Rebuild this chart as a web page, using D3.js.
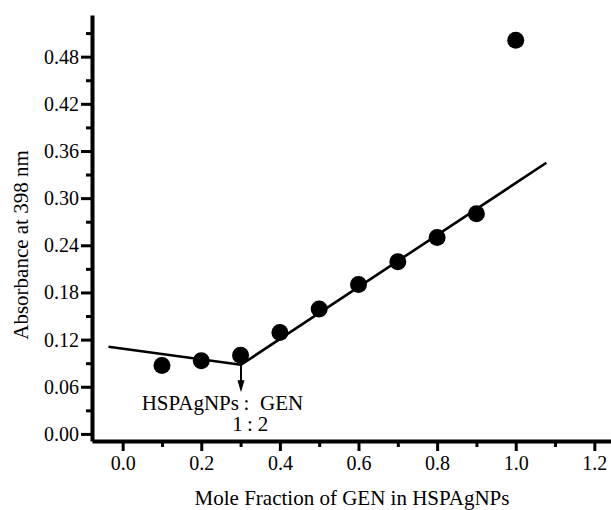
<!DOCTYPE html>
<html>
<head>
<meta charset="utf-8">
<script src="https://cdn.jsdelivr.net/npm/d3@7"></script>
<style>
  html, body { margin: 0; padding: 0; background: #fff; }
  svg { display: block; }
  text { font-family: "Liberation Serif", "Times New Roman", serif; fill: #000; }
</style>
</head>
<body>
<svg id="chart" width="611" height="510"></svg>
<script>
// ---- data ----
const moleFraction = [0.1, 0.2, 0.3, 0.4, 0.5, 0.6, 0.7, 0.8, 0.9, 1.0];
const absorbance   = [0.087, 0.093, 0.100, 0.129, 0.159, 0.190, 0.219, 0.250, 0.280, 0.501];
const leftFitX  = [-0.036, 0.301];
const leftFitY  = [0.111, 0.088];
const rightFitX = [0.301, 1.078];
const rightFitY = [0.088, 0.345];
const arrowTipY = 0.053;
const xTicks = [0.0, 0.2, 0.4, 0.6, 0.8, 1.0, 1.2];
const xMinorTicks = [0.1, 0.3, 0.5, 0.7, 0.9, 1.1];
const yTicks = [0.00, 0.06, 0.12, 0.18, 0.24, 0.30, 0.36, 0.42, 0.48];
const yMinorTicks = [0.03, 0.09, 0.15, 0.21, 0.27, 0.33, 0.39, 0.45, 0.51];
const xTitle = "Mole Fraction of GEN in HSPAgNPs";
const yTitle = "Absorbance at 398 nm";
const annotRow1 = ["HSPAgNPs", ":", "GEN"];
const annotRow2 = ["1", ":", "2"];

// ---- layout ----
const svg = d3.select("#chart");
const x = d3.scaleLinear().domain([-0.078, 1.25]).range([92, 614]);
const y = d3.scaleLinear().domain([-0.009, 0.533]).range([441, 15]);
const FS = 20;

// x axis
const xAxisG = svg.append("g").attr("transform", `translate(0,${y.range()[0]})`);
xAxisG.call(d3.axisBottom(x).tickValues(xTicks).tickFormat(d3.format(".1f"))
  .tickSizeInner(10).tickSizeOuter(0).tickPadding(5));
const xMinorG = svg.append("g").attr("transform", `translate(0,${y.range()[0]})`);
xMinorG.call(d3.axisBottom(x).tickValues(xMinorTicks).tickFormat("").tickSizeInner(6).tickSizeOuter(0));
xMinorG.select(".domain").remove();

// y axis
const yAxisG = svg.append("g").attr("transform", `translate(${x.range()[0]},0)`);
yAxisG.call(d3.axisLeft(y).tickValues(yTicks).tickFormat(d3.format(".2f"))
  .tickSizeInner(11).tickSizeOuter(0).tickPadding(2));
const yMinorG = svg.append("g").attr("transform", `translate(${x.range()[0]},0)`);
yMinorG.call(d3.axisLeft(y).tickValues(yMinorTicks).tickFormat("").tickSizeInner(6).tickSizeOuter(0));
yMinorG.select(".domain").remove();

svg.selectAll("g").attr("font-family", "Liberation Serif");
svg.selectAll(".domain").attr("stroke", "#000").attr("stroke-width", 4);
svg.selectAll(".tick line").attr("stroke", "#000").attr("stroke-width", 3);
svg.selectAll(".tick text").attr("font-size", FS).attr("fill", "#000");

// axis titles
svg.append("text").text(xTitle)
  .attr("x", 352).attr("y", 505).attr("text-anchor", "middle").attr("font-size", 21);
svg.append("text").text(yTitle)
  .attr("transform", "translate(28,245) rotate(-90)").attr("text-anchor", "middle").attr("font-size", 21);

// fit lines
const line = d3.line().x(d => x(d[0])).y(d => y(d[1]));
svg.append("path").datum(d3.zip(leftFitX, leftFitY)).attr("d", line)
  .attr("fill", "none").attr("stroke", "#000").attr("stroke-width", 2.6);
svg.append("path").datum(d3.zip(rightFitX, rightFitY)).attr("d", line)
  .attr("fill", "none").attr("stroke", "#000").attr("stroke-width", 2.6);

// points
svg.selectAll("circle.pt").data(d3.zip(moleFraction, absorbance)).enter()
  .append("circle").attr("class", "pt")
  .attr("cx", d => x(d[0])).attr("cy", d => y(d[1])).attr("r", 8.5).attr("fill", "#000");

// arrow
const vx = x(rightFitX[0]), vy = y(rightFitY[0]), ty = y(arrowTipY);
svg.append("line").attr("x1", vx).attr("x2", vx).attr("y1", vy).attr("y2", ty - 8)
  .attr("stroke", "#000").attr("stroke-width", 2);
svg.append("path").attr("d", `M${vx - 3.5},${ty - 12} L${vx + 3.5},${ty - 12} L${vx},${ty} Z`).attr("fill", "#000");

// annotation text
const AFS = 21;
const r1y = 409.5, r2y = 431;
svg.append("text").text(annotRow1[0]).attr("x", vx - 2).attr("y", r1y).attr("text-anchor", "end").attr("font-size", AFS);
svg.append("text").text(annotRow1[1]).attr("x", vx + 5.5).attr("y", r1y).attr("text-anchor", "middle").attr("font-size", AFS);
svg.append("text").text(annotRow1[2]).attr("x", vx + 19).attr("y", r1y).attr("text-anchor", "start").attr("font-size", AFS);
svg.append("text").text(annotRow2[0]).attr("x", vx - 3.5).attr("y", r2y).attr("text-anchor", "middle").attr("font-size", AFS);
svg.append("text").text(annotRow2[1]).attr("x", vx + 9).attr("y", r2y).attr("text-anchor", "middle").attr("font-size", AFS);
svg.append("text").text(annotRow2[2]).attr("x", vx + 22).attr("y", r2y).attr("text-anchor", "middle").attr("font-size", AFS);
</script>
</body>
</html>
